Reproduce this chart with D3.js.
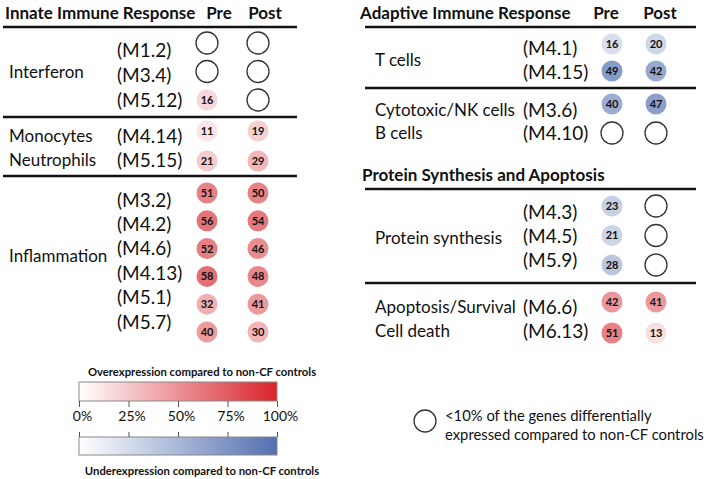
<!DOCTYPE html>
<html>
<head>
<meta charset="utf-8">
<script src="https://cdn.jsdelivr.net/npm/d3@7"></script>
<style>
  body { margin: 0; background: #fff; }
  svg text { font-family: Lato, "Open Sans", sans-serif; fill: #111; }
</style>
</head>
<body>
<div id="chart"></div>
<script>
// ---- data ----
const columns = ["Pre", "Post"];

const interferonModules = ["(M1.2)", "(M3.4)", "(M5.12)"];
const interferonPre = [null, null, 16];
const interferonPost = [null, null, null];

const myeloidNames = ["Monocytes", "Neutrophils"];
const myeloidModules = ["(M4.14)", "(M5.15)"];
const myeloidPre = [11, 21];
const myeloidPost = [19, 29];

const inflammationModules = ["(M3.2)", "(M4.2)", "(M4.6)", "(M4.13)", "(M5.1)", "(M5.7)"];
const inflammationPre = [51, 56, 52, 58, 32, 40];
const inflammationPost = [50, 54, 46, 48, 41, 30];

const tcellModules = ["(M4.1)", "(M4.15)"];
const tcellPre = [-16, -49];
const tcellPost = [-20, -42];

const lymphNames = ["Cytotoxic/NK cells", "B cells"];
const lymphModules = ["(M3.6)", "(M4.10)"];
const lymphPre = [-40, null];
const lymphPost = [-47, null];

const proteinModules = ["(M4.3)", "(M4.5)", "(M5.9)"];
const proteinPre = [-23, -21, -28];
const proteinPost = [null, null, null];

const deathNames = ["Apoptosis/Survival", "Cell death"];
const deathModules = ["(M6.6)", "(M6.13)"];
const deathPre = [42, 51];
const deathPost = [41, 13];

const legendTicks = [0, 25, 50, 75, 100];

// ---- setup ----
const width = 713, height = 479;
const svg = d3.select("#chart").append("svg")
  .attr("width", width).attr("height", height);

const redScale = d3.scaleLinear().domain([0, 90]).range(["#ffffff", "#d42027"]).clamp(true);
const blueScale = d3.scaleLinear().domain([0, 70]).range(["#ffffff", "#5470b0"]).clamp(true);

const panels = {
  left: { x0: 3, x1: 297, moduleX: 117, nameX: 9,
          col: d3.scalePoint().domain(columns).range([207, 258]) },
  right: { x0: 365, x1: 696, moduleX: 523, nameX: 375,
           col: d3.scalePoint().domain(columns).range([612, 656]) }
};

const sections = [
  { panel: "left", names: ["Interferon"], nameY: [78], modules: interferonModules,
    pre: interferonPre, post: interferonPost, circ: [43, 100], lab: [50, 100] },
  { panel: "left", names: myeloidNames, modules: myeloidModules,
    pre: myeloidPre, post: myeloidPost, circ: [131, 161], lab: [136, 160] },
  { panel: "left", names: ["Inflammation"], nameY: [262], modules: inflammationModules,
    pre: inflammationPre, post: inflammationPost, circ: [193, 332], lab: [200, 322] },
  { panel: "right", names: ["T cells"], nameY: [66], modules: tcellModules,
    pre: tcellPre, post: tcellPost, circ: [44, 71], lab: [48, 72] },
  { panel: "right", names: lymphNames, modules: lymphModules,
    pre: lymphPre, post: lymphPost, circ: [104, 133], lab: [110, 133] },
  { panel: "right", names: ["Protein synthesis"], nameY: [244], modules: proteinModules,
    pre: proteinPre, post: proteinPost, circ: [206, 265], lab: [212, 260] },
  { panel: "right", names: deathNames, modules: deathModules,
    pre: deathPre, post: deathPost, circ: [302, 333], lab: [307, 331] }
];

// headers
const headers = [
  { text: "Innate Immune Response", x: 5, y: 19 },
  { text: "Pre", x: 219, y: 19, anchor: "middle" },
  { text: "Post", x: 265, y: 19, anchor: "middle" },
  { text: "Adaptive Immune Response", x: 360, y: 19 },
  { text: "Pre", x: 606, y: 19, anchor: "middle" },
  { text: "Post", x: 660, y: 19, anchor: "middle" },
  { text: "Protein Synthesis and Apoptosis", x: 362, y: 181 }
];
svg.append("g").selectAll("text").data(headers).join("text")
  .attr("x", d => d.x).attr("y", d => d.y)
  .attr("text-anchor", d => d.anchor || "start")
  .attr("font-size", 17).attr("font-weight", "bold")
  .text(d => d.text);

// separator lines
const rules = [
  { panel: "left", y: 27 }, { panel: "left", y: 117 }, { panel: "left", y: 176 },
  { panel: "right", y: 27 }, { panel: "right", y: 88 }, { panel: "right", y: 189 }, { panel: "right", y: 283 }
];
svg.append("g").selectAll("line").data(rules).join("line")
  .attr("x1", d => panels[d.panel].x0).attr("x2", d => panels[d.panel].x1)
  .attr("y1", d => d.y).attr("y2", d => d.y)
  .attr("stroke", "#111").attr("stroke-width", 2.5);

sections.forEach(s => {
  const p = panels[s.panel];
  const yC = d3.scalePoint().domain(s.modules).range(s.circ);
  const yL = d3.scalePoint().domain(s.modules).range(s.lab);
  const g = svg.append("g");

  // group names: one per row, or one for the whole section
  g.selectAll("text.name").data(s.names).join("text")
    .attr("class", "name")
    .attr("x", p.nameX)
    .attr("y", (d, i) => s.nameY ? s.nameY[i] : yL(s.modules[i]) + 6)
    .attr("font-size", 17).text(d => d);

  // module labels
  g.selectAll("text.mod").data(s.modules).join("text")
    .attr("class", "mod")
    .attr("x", p.moduleX).attr("y", d => yL(d) + 6.5)
    .attr("font-size", 19).text(d => d);

  // circles
  const cells = [];
  s.modules.forEach((m, i) => {
    cells.push({ m, col: "Pre", v: s.pre[i] });
    cells.push({ m, col: "Post", v: s.post[i] });
  });
  const c = g.selectAll("g.cell").data(cells).join("g")
    .attr("class", "cell")
    .attr("transform", d => `translate(${p.col(d.col)},${yC(d.m)})`);

  c.append("circle")
    .attr("r", d => d.v === null ? 11 : 10.5)
    .attr("fill", d => d.v === null ? "#fff" : (d.v > 0 ? redScale(d.v) : blueScale(-d.v)))
    .attr("stroke", d => d.v === null ? "#333" : "none")
    .attr("stroke-width", 1.3);

  c.filter(d => d.v !== null).append("text")
    .attr("text-anchor", "middle").attr("dy", "0.36em")
    .attr("font-size", 11).attr("font-weight", "bold")
    .attr("fill", "#222")
    .text(d => Math.abs(d.v));
});

// ---- colour legend ----
const lx = d3.scaleLinear().domain([0, 100]).range([79, 277]);
const defs = svg.append("defs");
const gradients = [
  { id: "gRed", end: "#d9242a" },
  { id: "gBlue", end: "#5470b0" }
];
gradients.forEach(gd => {
  const lg = defs.append("linearGradient").attr("id", gd.id);
  lg.append("stop").attr("offset", "0%").attr("stop-color", "#ffffff");
  lg.append("stop").attr("offset", "100%").attr("stop-color", gd.end);
});

const leg = svg.append("g");
leg.append("text").attr("x", 202).attr("y", 376).attr("text-anchor", "middle")
  .attr("font-size", 11.3).attr("font-weight", "bold")
  .text("Overexpression compared to non-CF controls");
leg.append("rect").attr("x", lx(0)).attr("y", 382).attr("width", lx(100) - lx(0)).attr("height", 19)
  .attr("fill", "url(#gRed)").attr("stroke", "#888").attr("stroke-width", 1);
leg.append("rect").attr("x", lx(0)).attr("y", 437).attr("width", lx(100) - lx(0)).attr("height", 18)
  .attr("fill", "url(#gBlue)").attr("stroke", "#888").attr("stroke-width", 1);
leg.append("text").attr("x", 202).attr("y", 475).attr("text-anchor", "middle")
  .attr("font-size", 11.3).attr("font-weight", "bold")
  .text("Underexpression compared to non-CF controls");

const axB = leg.append("g").attr("transform", "translate(0,401)")
  .call(d3.axisBottom(lx).tickValues(legendTicks).tickSize(6).tickFormat(d => d + "%"));
axB.select(".domain").remove();
axB.selectAll(".tick line").attr("stroke", "#555");
axB.selectAll(".tick text").attr("font-family", "'Liberation Sans', Arial, sans-serif")
  .attr("font-size", 14).attr("fill", "#222").attr("dx", 3).attr("y", 10);

const axT = leg.append("g").attr("transform", "translate(0,437)")
  .call(d3.axisTop(lx).tickValues(legendTicks).tickSize(5).tickFormat(""));
axT.select(".domain").remove();
axT.selectAll(".tick line").attr("stroke", "#555");

// ---- empty circle legend ----
svg.append("circle").attr("cx", 425).attr("cy", 421).attr("r", 11)
  .attr("fill", "#fff").attr("stroke", "#333").attr("stroke-width", 1.3);
const note = svg.append("text").attr("font-size", 14.8);
note.append("tspan").attr("x", 445).attr("y", 421).text("<10% of the genes differentially");
note.append("tspan").attr("x", 445).attr("y", 440).text("expressed  compared to non-CF controls");
</script>
</body>
</html>
